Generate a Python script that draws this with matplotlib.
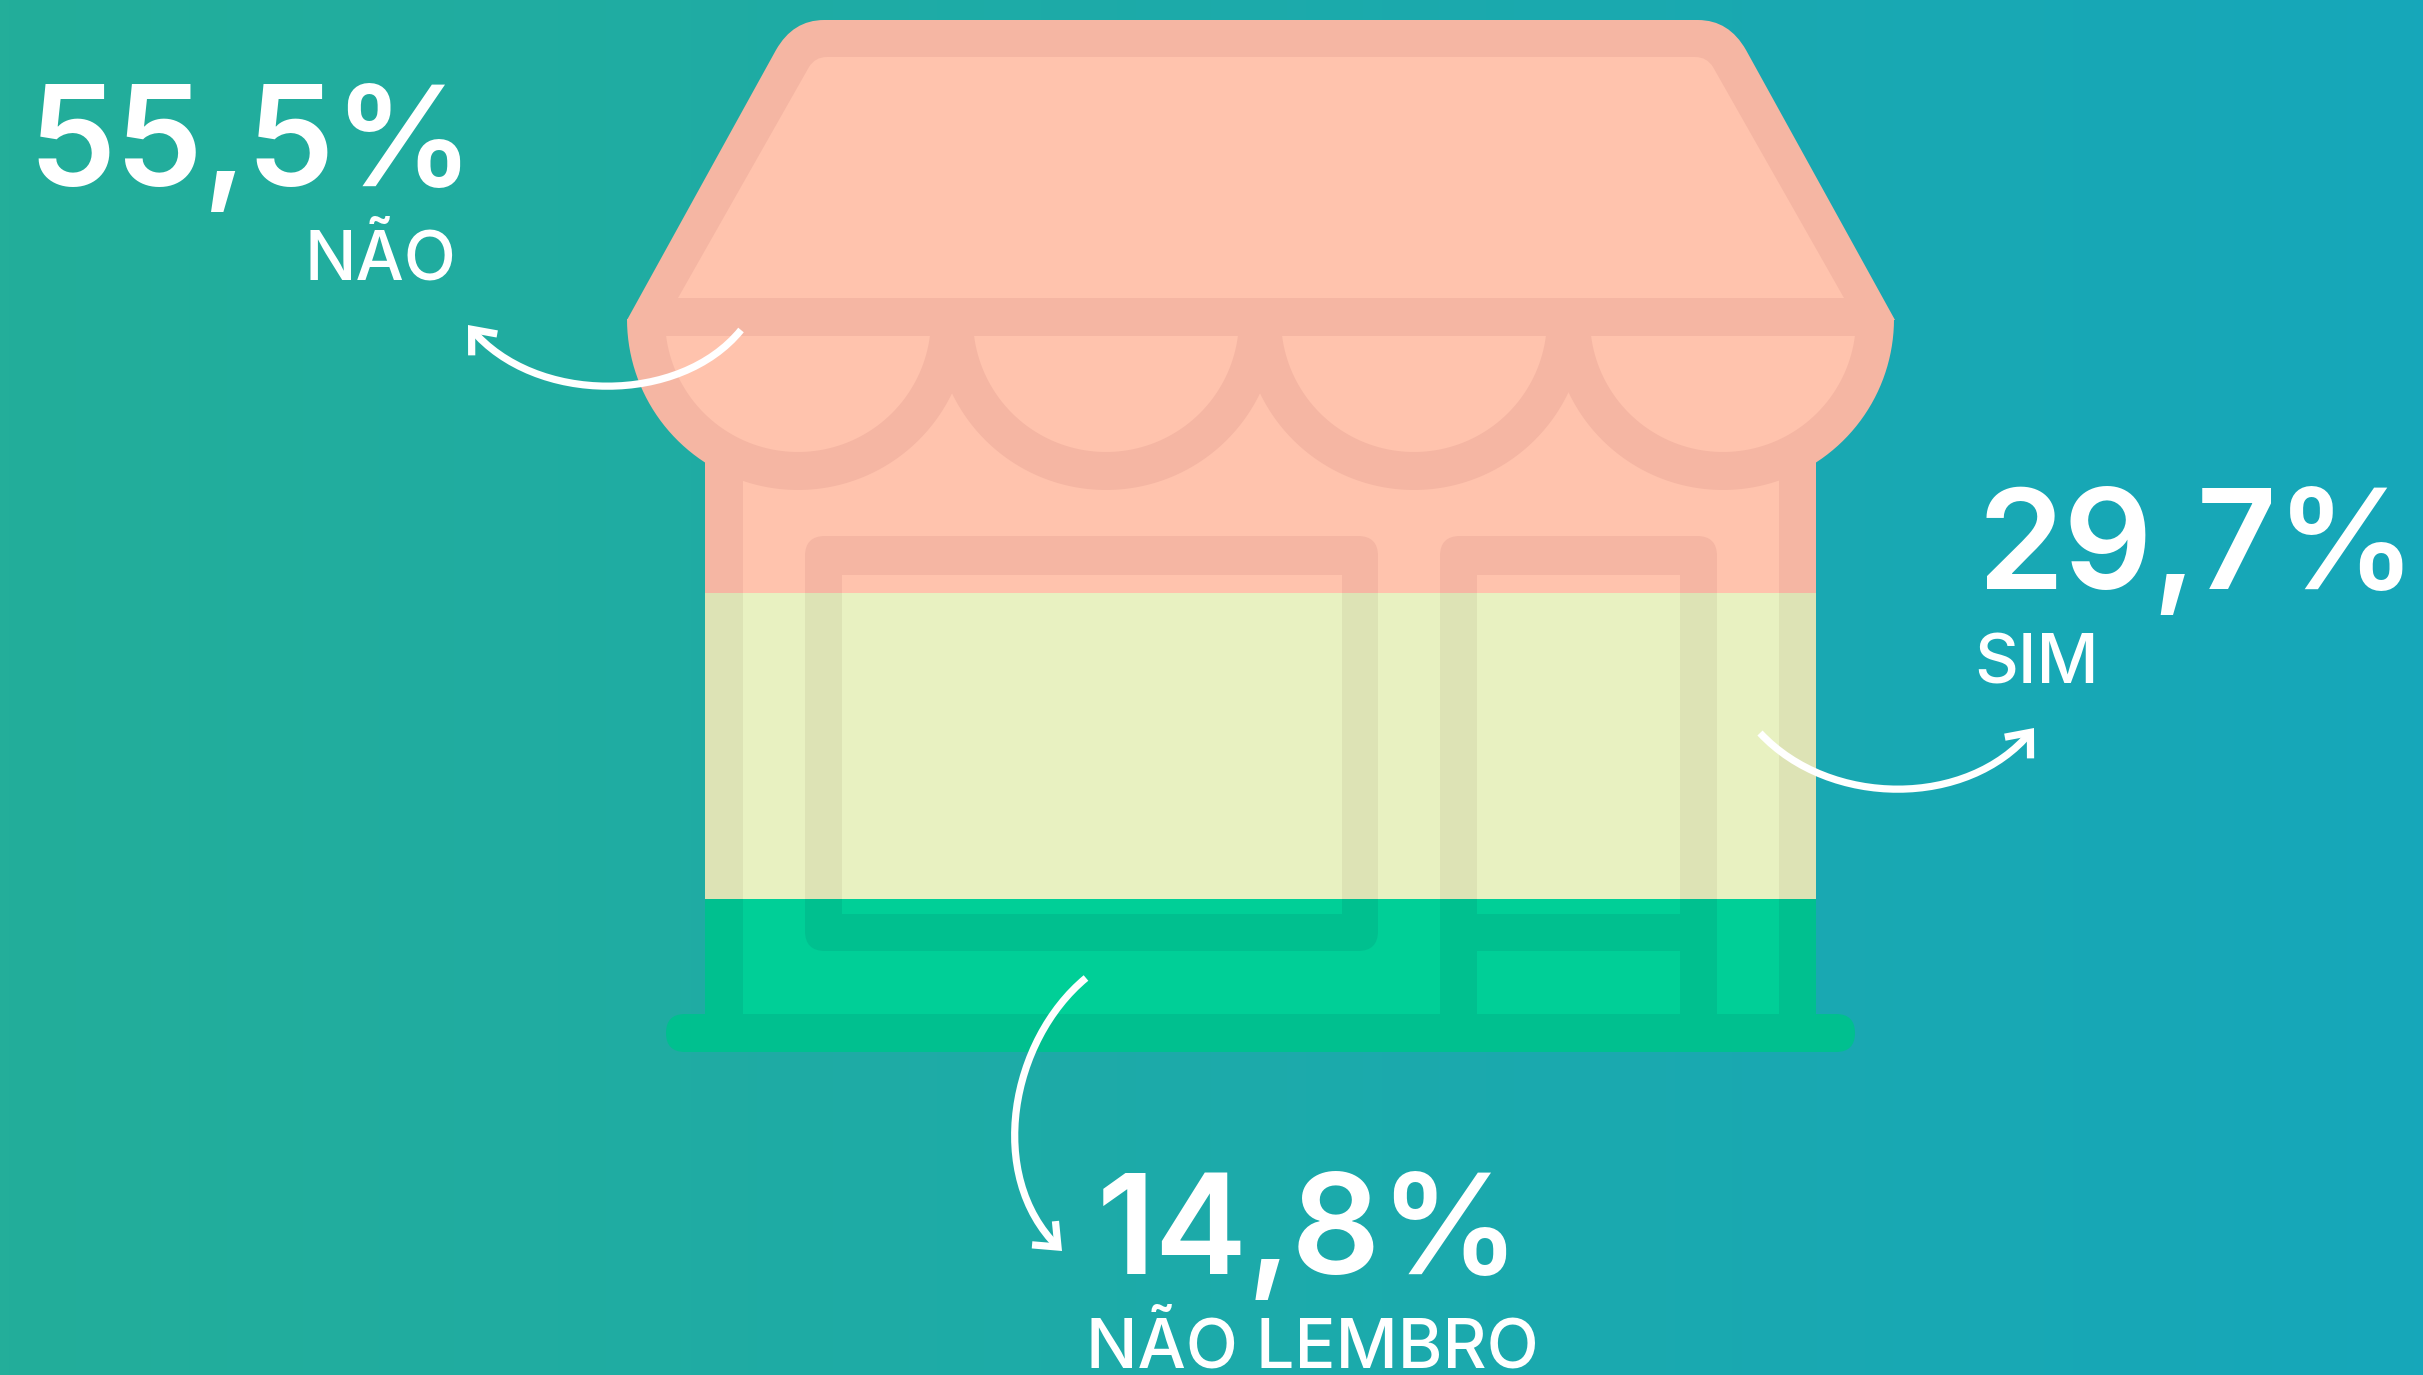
import numpy as np
import matplotlib
matplotlib.use("Agg")
import matplotlib.pyplot as plt
from matplotlib.path import Path
from matplotlib.patches import PathPatch, FancyArrowPatch

# survey shares, top band to bottom band
categories = ["NÃO", "SIM", "NÃO LEMBRO"]
shares = [55.5, 29.7, 14.8]

fill_colors = ["#FFC3AD", "#E8F1C1", "#00CF97"]
line_colors = ["#F5B6A3", "#DDE3B5", "#00C08F"]

W, H = 2423, 1375
HOUSE_TOP, HOUSE_BOTTOM = 20, 1052

fig = plt.figure(figsize=(W / 100, H / 100), dpi=100)
ax = fig.add_axes([0, 0, 1, 1])
ax.set_xlim(0, W)
ax.set_ylim(H, 0)
ax.axis("off")

# background gradient
bg = np.linspace(np.array([0x23, 0xAE, 0x9A]), np.array([0x16, 0xA7, 0xBA]), 256) / 255
ax.imshow(bg[np.newaxis, :, :], extent=[0, W, H, 0], aspect="auto", zorder=0)

z = [1]


def paint(path, colors):
    # stacked bars, one per share, cut to the given piece of the house
    clip = PathPatch(path, transform=ax.transData)
    scale = (HOUSE_BOTTOM - HOUSE_TOP) / sum(shares)
    heights = [s * scale for s in shares]
    bottoms = HOUSE_TOP + np.concatenate([[0], np.cumsum(heights)[:-1]])
    bars = ax.bar([W / 2] * 3, heights, bottom=bottoms, width=W, color=colors, linewidth=0, zorder=z[0])
    for b in bars:
        b.set_clip_path(clip)
    z[0] += 1


def rect(x0, y0, x1, y1, r=0):
    if r == 0:
        return Path([(x0, y0), (x1, y0), (x1, y1), (x0, y1), (x0, y0)], closed=True)
    v = [(x0 + r, y0), (x1 - r, y0), (x1, y0), (x1, y0 + r), (x1, y1 - r), (x1, y1), (x1 - r, y1),
         (x0 + r, y1), (x0, y1), (x0, y1 - r), (x0, y0 + r), (x0, y0), (x0 + r, y0)]
    c = [Path.MOVETO, Path.LINETO, Path.CURVE3, Path.CURVE3, Path.LINETO, Path.CURVE3, Path.CURVE3,
         Path.LINETO, Path.CURVE3, Path.CURVE3, Path.LINETO, Path.CURVE3, Path.CURVE3]
    return Path(v, c)


def scallop(cx, r, cut_y, cy=319):
    # lower part of a circle below cut_y
    a = np.arcsin((cut_y - cy) / r)
    t = np.linspace(a, np.pi - a, 80)
    return Path(np.column_stack([cx + r * np.cos(t), cy + r * np.sin(t)]))


def roof(left_low, curve_a, ctrl, curve_b, low_y):
    axis = 2522
    v = [(left_low, low_y), curve_a, ctrl, curve_b,
         (axis - curve_b[0], curve_b[1]), (axis - ctrl[0], ctrl[1]), (axis - curve_a[0], curve_a[1]),
         (axis - left_low, low_y), (left_low, low_y)]
    c = [Path.MOVETO, Path.LINETO, Path.CURVE3, Path.CURVE3, Path.LINETO, Path.CURVE3, Path.CURVE3,
         Path.LINETO, Path.CLOSEPOLY]
    return Path(v, c)


scallop_x = [798, 1106, 1414, 1723]

# outline
paint(roof(627, (776, 50), (793, 20), (824, 20), 320), line_colors)
paint(rect(705, 319, 1816, 1020), line_colors)

# wall interior, then scallops, roof and openings on top
paint(rect(743, 336, 1779, 1014), fill_colors)
for cx in scallop_x:
    paint(scallop(cx, 171, 319), line_colors)
paint(rect(660, 298, 1862, 336), line_colors)
paint(roof(678, (809, 67), (815, 57), (827, 57), 298), fill_colors)
for cx in scallop_x:
    paint(scallop(cx, 133, 336), fill_colors)

paint(rect(805, 536, 1378, 951, 20), line_colors)
paint(rect(842, 575, 1342, 914), fill_colors)
paint(rect(1440, 536, 1717, 1040, 20), line_colors)
paint(rect(1477, 575, 1680, 914), fill_colors)
paint(rect(1477, 951, 1680, 1014), fill_colors)
paint(rect(666, 1014, 1855, 1052, 19), line_colors)

# labels
big = dict(color="white", family="Inter", weight="semibold", fontsize=100, ha="left", va="baseline", zorder=50)
small = dict(color="white", family="Inter", weight="medium", fontsize=49, ha="left", va="baseline", zorder=50)
value_pos = [(28, 186), (1978, 589), (1097, 1274)]
label_pos = [(304, 279), (1974, 683), (1086, 1367)]
for cat, s, vp, lp in zip(categories, shares, value_pos, label_pos):
    ax.text(vp[0], vp[1], f"{s:.1f}%".replace(".", ","), **big)
    ax.text(lp[0], lp[1], cat, **small)

# arrows, start / two control points / tip
arrows = [[(741, 330), (680, 405), (535, 405), (468, 325)],
          [(1760, 733), (1830, 808), (1968, 808), (2034, 728)],
          [(1086, 978), (1011, 1040), (985, 1175), (1062, 1251)]]
for pts in arrows:
    arrow_path = Path(pts, [Path.MOVETO, Path.CURVE4, Path.CURVE4, Path.CURVE4])
    ax.add_patch(FancyArrowPatch(path=arrow_path, arrowstyle="->,head_length=0.72,head_width=0.6",
                                 mutation_scale=20, color="white", lw=5.2,
                                 capstyle="butt", joinstyle="miter", zorder=40))

fig.savefig("out.png", dpi=100)
